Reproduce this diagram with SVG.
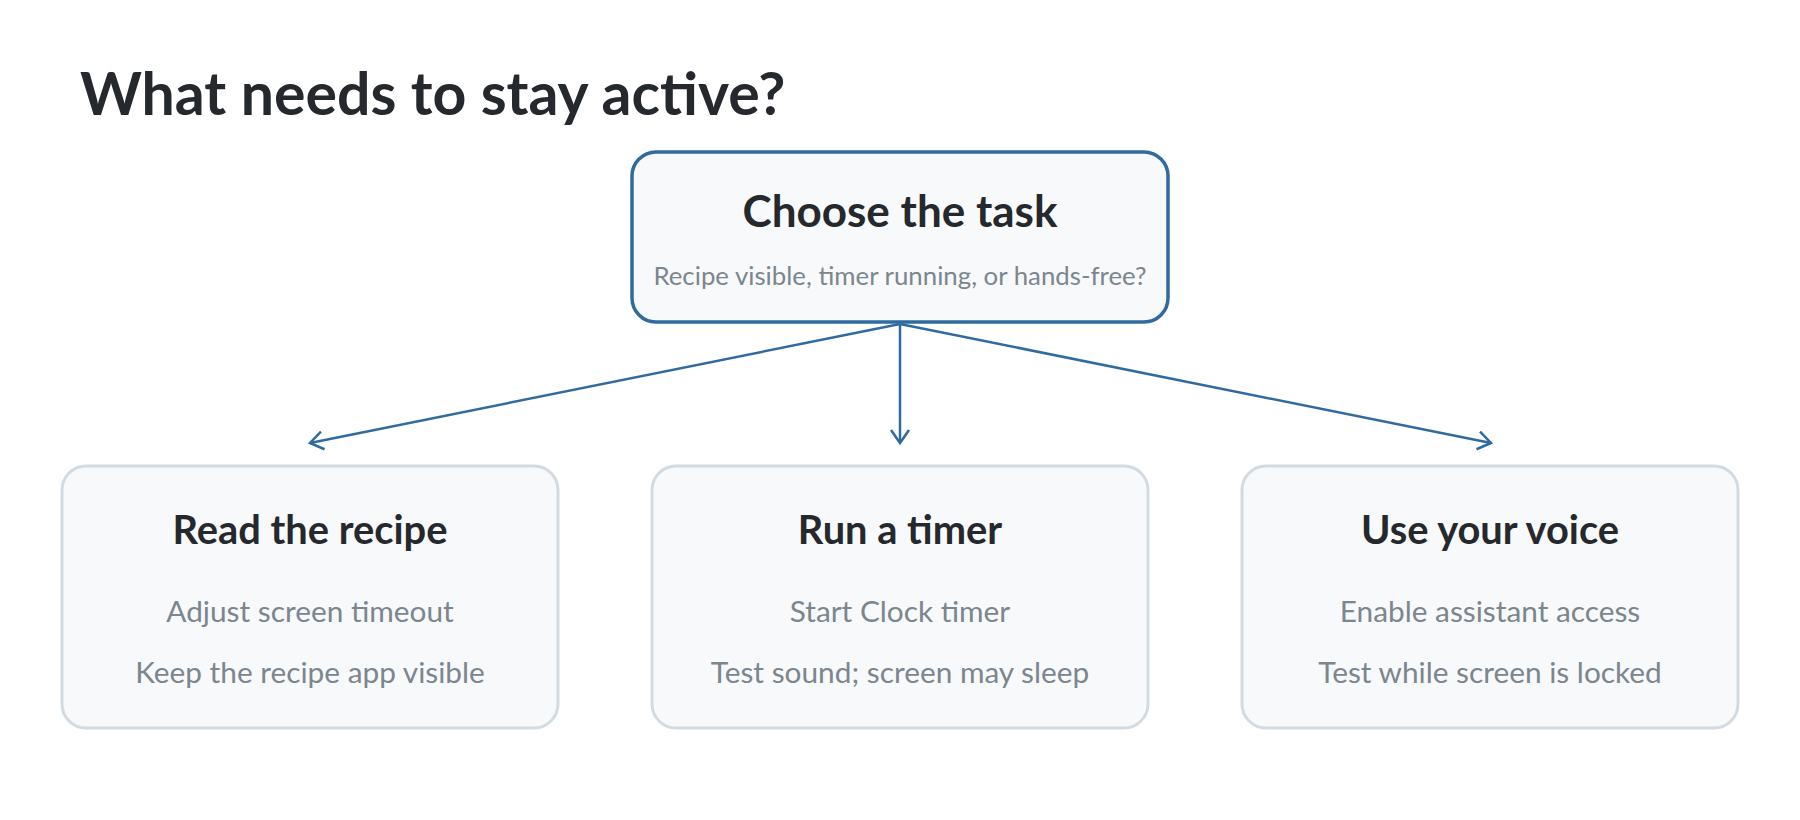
<svg xmlns="http://www.w3.org/2000/svg" width="1800" height="820" viewBox="0 0 1800 820">
<defs>
<style>
.title{font-family:Lato,"Noto Sans",sans-serif;font-weight:700;font-size:59px;fill:#25292e}
.head{font-family:Lato,"Noto Sans",sans-serif;font-weight:700;fill:#25292e;text-anchor:middle}
.sub{font-family:Lato,"Noto Sans",sans-serif;font-weight:400;fill:#7b868f;text-anchor:middle}
.main{fill:#f7f9fb;stroke:#2f6b9f;stroke-width:3.5}
.opt{fill:#f7f9fb;stroke:#d3dbe2;stroke-width:3}
.conn{fill:none;stroke:#2f6b9f;stroke-width:2.5}
</style>
<marker id="arr" markerUnits="userSpaceOnUse" viewBox="-16 -12 20 24" markerWidth="20" markerHeight="24" refX="0" refY="0" orient="auto" overflow="visible">
<path d="M-13,-9 L0,0 L-13,9" fill="none" stroke="#2f6b9f" stroke-width="2.5"/>
</marker>
</defs>
<rect width="1800" height="820" fill="#ffffff"/>
<text class="title" x="80" y="115">What needs to stay active?</text>
<g id="connectors">
<line class="conn" x1="900" y1="324" x2="310" y2="443" marker-end="url(#arr)"/>
<line class="conn" x1="900" y1="324" x2="900" y2="443" marker-end="url(#arr)"/>
<line class="conn" x1="900" y1="324" x2="1491" y2="443" marker-end="url(#arr)"/>
</g>
<g id="choose">
<rect class="main" x="632" y="152" width="536" height="170" rx="24"/>
<text class="head" x="900" y="227" font-size="44">Choose the task</text>
<text class="sub" x="900" y="285" font-size="25.8">Recipe visible, timer running, or hands-free?</text>
</g>
<g id="read">
<rect class="opt" x="62" y="466" width="496" height="262" rx="24"/>
<text class="head" x="310" y="544" font-size="39.8">Read the recipe</text>
<text class="sub" x="310" y="622" font-size="29.8">Adjust screen timeout</text>
<text class="sub" x="310" y="683" font-size="29.8">Keep the recipe app visible</text>
</g>
<g id="timer">
<rect class="opt" x="652" y="466" width="496" height="262" rx="24"/>
<text class="head" x="900" y="544" font-size="39.8">Run a timer</text>
<text class="sub" x="900" y="622" font-size="29.8">Start Clock timer</text>
<text class="sub" x="900" y="683" font-size="29.8">Test sound; screen may sleep</text>
</g>
<g id="voice">
<rect class="opt" x="1242" y="466" width="496" height="262" rx="24"/>
<text class="head" x="1490" y="544" font-size="39.8">Use your voice</text>
<text class="sub" x="1490" y="622" font-size="29.8">Enable assistant access</text>
<text class="sub" x="1490" y="683" font-size="29.8">Test while screen is locked</text>
</g>
</svg>
